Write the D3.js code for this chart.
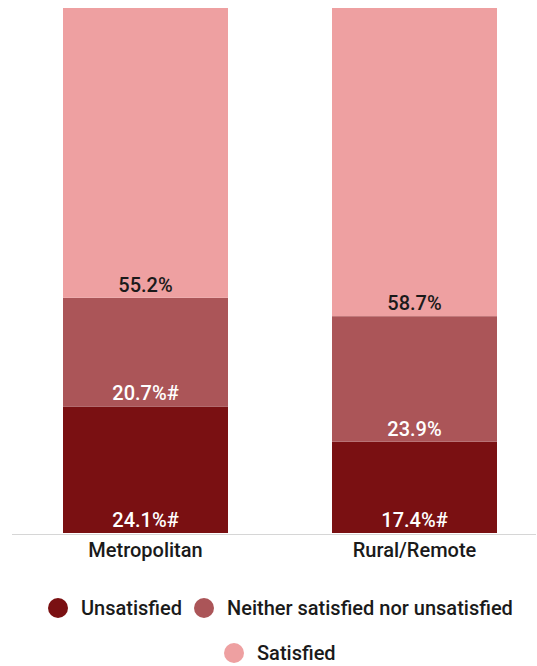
<!DOCTYPE html>
<html>
<head>
<meta charset="utf-8">
<script src="https://cdn.jsdelivr.net/npm/d3@7"></script>
<style>
  html, body { margin: 0; padding: 0; background: #fff; }
  svg { display: block; font-family: Roboto, "Noto Sans", sans-serif; }
</style>
</head>
<body>
<svg id="chart" width="537" height="666"></svg>
<script>
// Satisfaction by area type, stacked to 100%
const categories = ["Metropolitan", "Rural/Remote"];
const seriesNames = ["Unsatisfied", "Neither satisfied nor unsatisfied", "Satisfied"];
const unsatisfied = [24.1, 17.4];
const neither = [20.7, 23.9];
const satisfied = [55.2, 58.7];
// Estimates flagged with # are shown with the marker
const flagUnsatisfied = [true, true];
const flagNeither = [true, false];
const flagSatisfied = [false, false];

const colors = ["#7a1012", "#ab5558", "#eea0a1"];
const labelColors = ["#ffffff", "#ffffff", "#1a1a1a"];

const rows = categories.map((c, i) => ({
  category: c,
  "Unsatisfied": unsatisfied[i],
  "Neither satisfied nor unsatisfied": neither[i],
  "Satisfied": satisfied[i],
  flags: [flagUnsatisfied[i], flagNeither[i], flagSatisfied[i]]
}));

const svg = d3.select("#chart");
const FS = 20, FW = 500;

const x = d3.scaleBand().domain(categories).range([63, 497]).paddingInner(104 / 269).paddingOuter(0);
const y = d3.scaleLinear().domain([0, 100]).range([533, 8]);

const stacked = d3.stack().keys(seriesNames)(rows);

const layers = svg.append("g").selectAll("g")
  .data(stacked)
  .join("g")
  .attr("fill", (d, i) => colors[i]);

layers.selectAll("rect")
  .data(d => d)
  .join("rect")
  .attr("x", d => x(d.data.category))
  .attr("width", x.bandwidth())
  .attr("y", d => y(d[1]))
  .attr("height", d => y(d[0]) - y(d[1]));

// value labels sit just above the base of each segment
stacked.forEach((layer, si) => {
  svg.append("g").selectAll("text")
    .data(layer)
    .join("text")
    .attr("x", d => x(d.data.category) + x.bandwidth() / 2)
    .attr("y", d => y(d[0]) - 6)
    .attr("text-anchor", "middle")
    .attr("font-size", FS)
    .attr("font-weight", FW)
    .attr("fill", labelColors[si])
    .text(d => {
      const v = d.data[layer.key];
      return v.toFixed(1) + "%" + (d.data.flags[si] ? "#" : "");
    });
});

// baseline
svg.append("line")
  .attr("x1", 12).attr("x2", 536)
  .attr("y1", 534.5).attr("y2", 534.5)
  .attr("stroke", "#d6d6d6")
  .attr("stroke-width", 1);

// category labels
const xAxis = svg.append("g").attr("transform", "translate(0,534)")
  .call(d3.axisBottom(x).tickSize(0).tickPadding(9));
xAxis.select(".domain").remove();
xAxis.selectAll("text")
  .attr("font-size", FS)
  .attr("font-weight", FW)
  .attr("font-family", "Roboto, sans-serif")
  .attr("fill", "#1a1a1a");

// legend
const legendItems = [
  { name: seriesNames[0], color: colors[0], cx: 58, cy: 608 },
  { name: seriesNames[1], color: colors[1], cx: 204, cy: 608 },
  { name: seriesNames[2], color: colors[2], cx: 234, cy: 653 }
];
const legend = svg.append("g").selectAll("g")
  .data(legendItems)
  .join("g")
  .attr("transform", d => `translate(${d.cx},${d.cy})`);
legend.append("circle").attr("r", 10).attr("fill", d => d.color);
legend.append("text")
  .attr("x", 23)
  .attr("dy", "0.35em")
  .attr("font-size", FS)
  .attr("font-weight", FW)
  .attr("fill", "#1a1a1a")
  .text(d => d.name);
</script>
</body>
</html>
